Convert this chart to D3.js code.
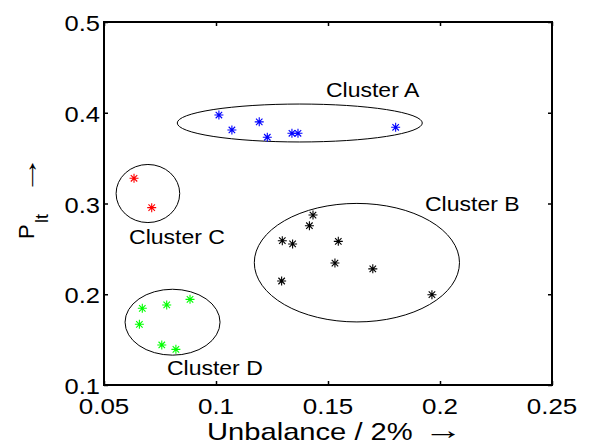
<!DOCTYPE html>
<html><head><meta charset="utf-8">
<script src="https://cdn.jsdelivr.net/npm/d3@7"></script>
<style>body{margin:0;background:#fff;} svg{display:block;} text{font-family:"Liberation Sans",Arial,sans-serif;}</style>
</head><body><svg id="c" width="602" height="443"></svg>
<script>
// ---- data ----
const xTicks = [0.05, 0.1, 0.15, 0.2, 0.25];
const xTickLabels = ["0.05", "0.1", "0.15", "0.2", "0.25"];
const yTicks = [0.1, 0.2, 0.3, 0.4, 0.5];
const yTickLabels = ["0.1", "0.2", "0.3", "0.4", "0.5"];

const clusterAx = [0.1013, 0.1071, 0.1193, 0.1229, 0.1339, 0.1366, 0.1802];
const clusterAy = [0.3975, 0.3810, 0.3900, 0.3730, 0.3774, 0.3774, 0.3840];
const clusterBx = [0.1433, 0.1417, 0.1296, 0.1342, 0.1546, 0.1531, 0.1700, 0.1293, 0.1964];
const clusterBy = [0.2873, 0.2755, 0.2590, 0.2554, 0.2583, 0.2344, 0.2280, 0.2146, 0.1995];
const clusterCx = [0.0634, 0.0713];
const clusterCy = [0.3278, 0.2954];
const clusterDx = [0.0671, 0.0780, 0.0884, 0.0658, 0.0758, 0.0821];
const clusterDy = [0.1845, 0.1882, 0.1944, 0.1669, 0.1441, 0.1393];

const clusterNames = ["Cluster A", "Cluster B", "Cluster C", "Cluster D"];
const ellipseCx = [0.1374, 0.1629, 0.0696, 0.0806];
const ellipseCy = [0.3887, 0.2348, 0.3110, 0.1692];
const ellipseRx = [0.0547, 0.0458, 0.0142, 0.0212];
const ellipseRy = [0.0209, 0.0653, 0.0320, 0.0363];
const labelX = [0.1491, 0.1933, 0.0612, 0.0781];
const labelY = [0.4174, 0.2917, 0.2554, 0.1110];

const xLabel = "Unbalance / 2%";
const yLabelMain = "P";
const yLabelSub = "lt";
const arrow = "\u2192";

// ---- layout ----
const L = 104, R = 552, T = 22, B = 385;
const svg = d3.select("#c");
const x = d3.scaleLinear().domain([0.05, 0.25]).range([L, R]);
const y = d3.scaleLinear().domain([0.1, 0.5]).range([B, T]);

const colors = ["#0000ff", "#000000", "#ff0000", "#00ff00"];
const series = [
  [clusterAx, clusterAy], [clusterBx, clusterBy], [clusterCx, clusterCy], [clusterDx, clusterDy]
];

// ellipses
const eg = svg.append("g");
clusterNames.forEach((n, i) => {
  eg.append("ellipse")
    .attr("cx", x(ellipseCx[i])).attr("cy", y(ellipseCy[i]))
    .attr("rx", x(ellipseCx[i] + ellipseRx[i]) - x(ellipseCx[i]))
    .attr("ry", y(ellipseCy[i]) - y(ellipseCy[i] + ellipseRy[i]))
    .attr("fill", "none").attr("stroke", "#000").attr("stroke-width", 1);
});

// asterisk markers
const r = 4.5, d = r * 0.72;
const star = `M${-r},0L${r},0M0,${-r}L0,${r}M${-d},${-d}L${d},${d}M${-d},${d}L${d},${-d}`;
series.forEach((s, i) => {
  svg.append("g").selectAll("path").data(s[0].map((v, k) => [v, s[1][k]]))
    .join("path")
    .attr("transform", p => `translate(${x(p[0])},${y(p[1])})`)
    .attr("d", star).attr("fill", "none").attr("stroke", colors[i]).attr("stroke-width", 1.1);
});

// cluster labels
clusterNames.forEach((n, i) => {
  svg.append("text").attr("transform", `translate(${x(labelX[i])},${y(labelY[i])}) scale(1.15,1)`)
    .attr("font-size", 20).text(n);
});

// axes
const ax = svg.append("g");
const tl = 4;
ax.append("g").attr("transform", `translate(0,${B})`)
  .call(d3.axisBottom(x).tickValues(xTicks).tickSize(-tl).tickFormat(""))
  .call(g => g.select(".domain").remove());
ax.append("g").attr("transform", `translate(0,${T})`)
  .call(d3.axisTop(x).tickValues(xTicks).tickSize(-tl).tickFormat(""))
  .call(g => g.select(".domain").remove());
ax.append("g").attr("transform", `translate(${L},0)`)
  .call(d3.axisLeft(y).tickValues(yTicks).tickSize(-tl).tickFormat(""))
  .call(g => g.select(".domain").remove());
ax.append("g").attr("transform", `translate(${R},0)`)
  .call(d3.axisRight(y).tickValues(yTicks).tickSize(-tl).tickFormat(""))
  .call(g => g.select(".domain").remove());
ax.selectAll(".tick line").attr("stroke", "#000").attr("stroke-width", 1.5);
ax.append("rect").attr("x", L).attr("y", T).attr("width", R - L).attr("height", B - T)
  .attr("fill", "none").attr("stroke", "#000").attr("stroke-width", 2);

// tick labels
xTicks.forEach((t, i) => {
  svg.append("text").attr("transform", `translate(${x(t)},${B + 29}) scale(1.18,1)`)
    .attr("text-anchor", "middle").attr("font-size", 22).text(xTickLabels[i]);
});
yTicks.forEach((t, i) => {
  svg.append("text").attr("transform", `translate(${L - 4},${y(t) + 9}) scale(1.16,1)`)
    .attr("text-anchor", "end").attr("font-size", 22).text(yTickLabels[i]);
});

// x axis label
svg.append("text").attr("transform", `translate(207,440) scale(1.215,1)`)
  .attr("font-size", 24).text(xLabel);
svg.append("text").attr("transform", `translate(424,439) scale(1.5,1)`)
  .attr("font-size", 26).text(arrow);

// y axis label (rotated, reading bottom to top)
const yl = svg.append("text").attr("transform", `translate(34,239) rotate(-90)`)
  .attr("font-size", 22);
yl.append("tspan").attr("x", 0).attr("y", 0).text(yLabelMain);
yl.append("tspan").attr("x", 16).attr("y", 14).attr("font-size", 18).text(yLabelSub);
svg.append("text").attr("transform", `translate(37,194) rotate(-90) scale(1.5,1)`)
  .attr("font-size", 26).text(arrow);
</script></body></html>
